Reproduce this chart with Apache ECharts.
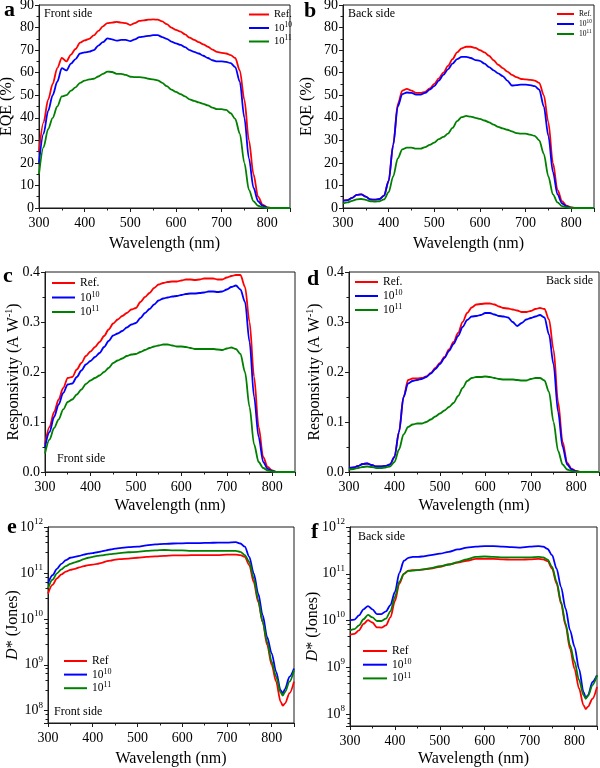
<!DOCTYPE html>
<html>
<head>
<meta charset="utf-8">
<script src="https://cdn.jsdelivr.net/npm/echarts@6/dist/echarts.min.js"></script>
<style>
html, body { margin: 0; padding: 0; background: #fff; }
#chart { width: 600px; height: 768px; }
</style>
</head>
<body>
<div id="chart"></div>
<script>
'use strict';
var myChart = echarts.init(document.getElementById('chart'));

// wavelength grid (nm) for EQE / responsivity panels
var wl = [300,310,320,330,340,350,360,370,380,390,400,410,420,430,440,450,460,470,480,490,
  500,510,520,530,540,550,560,570,580,590,600,610,620,630,640,650,660,670,680,690,
  700,710,720,730,740,750,760,770,780,790,800,810,820,830,840,850];

// a: EQE front side (%)
var eqeFrontRef = [25,38,48,55,62,66.5,65,68,70.5,73.3, 74.3,75,76.5,78.5,80.5,82,82.2,82.5,82.2,82,
  81.1,82,83,83.2,83.5,83.6,83.5,82.7,81.5,80, 79,78.2,77,75.5,74.5,73.5,72.5,71.5,70.2,69.2,
  68.8,68.5,67.8,66.5,61,48,30,15,5,1.5, 0.3,0,0,0,0,0];
var eqeFront1e10 = [20,33,43,50,56,62,61,64,66,68.5, 69,69.3,70,72,73.5,75.2,74.8,74.2,74.5,74.5,
  74,74.8,75.8,76,76.3,76.6,76.6,75.8,75,73.8, 73,72.3,71.3,70,69.2,68.5,67.5,66.5,65.5,65,
  65,64.8,64.2,62.5,56,40,22,9,3,1, 0.2,0,0,0,0,0];
var eqeFront1e11 = [15,27,35,40,45,49.5,50,52,53.5,55.5, 56.5,57,57.3,58.3,59.5,60.5,60.3,59.5,59.5,59,
  58.2,58,58,57.8,57.3,57,56.6,55.5,54,52.5, 51.5,50.5,49.5,48.2,47.5,46.8,46.2,45.5,44.5,43.8,
  43.8,43.5,42,39.5,33,20,8,3,1,0.3, 0,0,0,0,0,0];

// b: EQE back side (%)
var eqeBackRef = [3.3,3.5,4.5,5.8,6,5,3.8,3.7,4,5.5, 12,28,46,52,52.8,52,51,51,51.5,53,
  55,57.5,60,63,66,69,70.8,71.5,71.5,71, 70,69,67.5,65.5,63.5,62,60.5,59,58,57.2,
  57,56.8,56.5,55.5,50,38,20,8,3,1, 0.3,0,0,0,0,0];
var eqeBack1e10 = [3.3,3.5,4.5,5.8,6,5,3.8,3.7,4,5.5, 12,28,45,50.5,51.2,51,50.3,50.3,51,52.5,
  54,56.5,59,61.5,64,66,67,67,66.5,65.6, 65.2,64,62.5,61,59.7,58.5,56.5,54.3,54.5,54.7,
  54.7,54.5,54,52.5,45,32,16,6,2,0.7, 0.2,0,0,0,0,0];
var eqeBack1e11 = [2,2.5,3.2,3.8,4,3.6,3,2.8,3,3.8, 7,14,22,26,26.8,26.8,26.3,26.3,27,28,
  29,30.5,31.5,33,35.5,38.5,40.3,40.8,40.5,40, 39.5,38.8,38,37,36,35.3,34.7,34,33.2,33,
  33,32.5,32,30,24,14,6,2.5,0.8,0.3, 0,0,0,0,0,0];

// c: responsivity front side (A/W)
var respFrontRef = [0.055,0.09,0.12,0.145,0.168,0.188,0.19,0.205,0.218,0.232, 0.241,0.25,0.26,0.272,0.285,0.297,0.305,0.312,0.318,0.325,
  0.328,0.34,0.35,0.358,0.368,0.375,0.378,0.38,0.381,0.381, 0.383,0.385,0.385,0.384,0.385,0.387,0.387,0.387,0.385,0.385,
  0.389,0.392,0.394,0.394,0.37,0.3,0.19,0.09,0.03,0.01, 0.003,0,0,0,0,0];
var respFront1e10 = [0.05,0.08,0.11,0.135,0.158,0.175,0.177,0.19,0.203,0.215, 0.222,0.23,0.238,0.25,0.262,0.273,0.277,0.282,0.289,0.295,
  0.298,0.308,0.318,0.326,0.335,0.343,0.347,0.349,0.351,0.352, 0.354,0.356,0.357,0.357,0.358,0.359,0.361,0.361,0.36,0.361,
  0.365,0.37,0.373,0.365,0.34,0.26,0.15,0.07,0.02,0.006, 0.002,0,0,0,0,0];
var respFront1e11 = [0.037,0.065,0.088,0.105,0.125,0.14,0.145,0.155,0.165,0.176, 0.183,0.188,0.193,0.2,0.208,0.218,0.223,0.227,0.232,0.235,
  0.236,0.24,0.244,0.248,0.251,0.253,0.255,0.255,0.253,0.251, 0.251,0.25,0.248,0.246,0.246,0.246,0.246,0.246,0.245,0.244,
  0.247,0.249,0.246,0.236,0.2,0.13,0.055,0.02,0.008,0.003, 0.001,0,0,0,0,0];

// d: responsivity back side (A/W)
var respBackRef = [0.008,0.009,0.012,0.016,0.017,0.014,0.011,0.011,0.012,0.015, 0.03,0.08,0.15,0.184,0.187,0.187,0.188,0.191,0.198,0.208,
  0.218,0.23,0.245,0.26,0.278,0.3,0.318,0.329,0.335,0.336, 0.337,0.337,0.335,0.331,0.328,0.327,0.325,0.323,0.32,0.32,
  0.322,0.326,0.328,0.326,0.305,0.245,0.14,0.06,0.018,0.006, 0.002,0,0,0,0,0];
var respBack1e10 = [0.008,0.009,0.012,0.016,0.017,0.014,0.011,0.011,0.012,0.015, 0.03,0.08,0.15,0.177,0.182,0.184,0.186,0.19,0.197,0.206,
  0.216,0.228,0.242,0.256,0.272,0.29,0.304,0.311,0.312,0.314, 0.318,0.318,0.315,0.312,0.311,0.309,0.3,0.292,0.298,0.305,
  0.308,0.311,0.314,0.309,0.275,0.215,0.12,0.05,0.015,0.005, 0.001,0,0,0,0,0];
var respBack1e11 = [0.005,0.006,0.008,0.01,0.011,0.01,0.008,0.008,0.009,0.011, 0.02,0.045,0.075,0.09,0.095,0.097,0.097,0.1,0.105,0.111,
  0.117,0.123,0.13,0.138,0.152,0.168,0.182,0.188,0.19,0.19, 0.191,0.19,0.188,0.186,0.185,0.185,0.185,0.184,0.183,0.183,
  0.186,0.188,0.188,0.183,0.16,0.1,0.042,0.015,0.005,0.002, 0,0,0,0,0,0];

// wavelength grid (nm) for detectivity panels
var wlD = [300,310,320,330,340,350,360,370,380,390,400,410,420,430,440,450,460,
  480,500,520,540,560,580,600,620,640,660,680,700,720,
  730,740,750,760,770,780,790,800,810,820,825,830,840,850];

// e: D* front side (Jones)
var detFrontRef = [3.55e10,5.5e10,7.6e10,9.3e10,1.07e11,1.17e11,1.23e11,1.32e11,1.41e11,1.48e11,
  1.51e11,1.58e11,1.66e11,1.78e11,1.86e11,1.95e11,2.0e11,
  2.04e11,2.14e11,2.24e11,2.29e11,2.34e11,2.4e11,2.4e11,2.43e11,2.45e11,2.45e11,2.45e11,2.51e11,2.51e11,
  2.45e11,2.24e11,1.48e11,6.3e10,2.34e10,8.5e9,2.7e9,1.0e9,4.3e8,1.58e8,
  1.29e8,1.45e8,2.4e8,4.3e8];
var detFront1e10 = [5.9e10,8.9e10,1.23e11,1.58e11,1.9e11,2.14e11,2.24e11,2.34e11,2.51e11,2.63e11,
  2.69e11,2.82e11,2.95e11,3.09e11,3.24e11,3.39e11,3.47e11,
  3.63e11,3.72e11,3.98e11,4.17e11,4.27e11,4.37e11,4.42e11,4.47e11,4.47e11,4.52e11,4.57e11,4.57e11,4.68e11,
  4.37e11,3.72e11,2.24e11,9.8e10,3.55e10,1.2e10,4.0e9,1.78e9,7.1e8,2.8e8,
  2.4e8,3.0e8,5.5e8,8.3e8];
var detFront1e11 = [4.6e10,7.1e10,9.8e10,1.2e11,1.41e11,1.58e11,1.7e11,1.82e11,2.0e11,2.14e11,
  2.24e11,2.34e11,2.4e11,2.51e11,2.57e11,2.63e11,2.69e11,
  2.82e11,2.88e11,3.02e11,3.09e11,3.16e11,3.09e11,3.09e11,3.02e11,3.02e11,3.02e11,3.02e11,3.02e11,3.02e11,
  2.88e11,2.45e11,1.74e11,7.6e10,2.57e10,8.5e9,3.16e9,1.17e9,5.5e8,2.5e8,
  2.14e8,2.57e8,4.3e8,7.6e8];

// f: D* back side (Jones)
var detBackRef = [5.0e9,5.2e9,6.2e9,8.5e9,1.02e10,9.1e9,7.2e9,7.1e9,7.9e9,1.17e10,
  2.6e10,6.2e10,1.0e11,1.17e11,1.2e11,1.2e11,1.23e11,
  1.29e11,1.41e11,1.58e11,1.74e11,1.9e11,2.09e11,2.09e11,2.09e11,2.04e11,2.0e11,2.0e11,2.04e11,2.09e11,
  2.04e11,1.86e11,1.29e11,6.2e10,2.3e10,7.9e9,2.5e9,9.3e8,3.55e8,1.55e8,
  1.29e8,1.45e8,2.14e8,3.8e8];
var detBack1e10 = [1.02e10,1.05e10,1.29e10,1.74e10,2.04e10,1.74e10,1.38e10,1.38e10,1.58e10,2.14e10,
  4.1e10,1.05e11,1.9e11,2.19e11,2.29e11,2.29e11,2.34e11,
  2.51e11,2.69e11,2.95e11,3.31e11,3.63e11,3.8e11,3.89e11,3.89e11,3.8e11,3.72e11,3.63e11,3.8e11,3.89e11,
  3.8e11,3.39e11,2.51e11,1.29e11,5.2e10,1.82e10,6.2e9,2.75e9,9.3e8,3.0e8,
  2.24e8,2.57e8,4.9e8,6.8e8];
var detBack1e11 = [6.2e9,6.6e9,7.9e9,1.07e10,1.32e10,1.17e10,9.8e9,9.8e9,1.1e10,1.58e10,
  3.2e10,6.8e10,1.0e11,1.15e11,1.17e11,1.2e11,1.23e11,
  1.32e11,1.45e11,1.58e11,1.78e11,2.04e11,2.29e11,2.34e11,2.29e11,2.24e11,2.24e11,2.24e11,2.24e11,2.29e11,
  2.24e11,2.0e11,1.41e11,6.8e10,2.5e10,8.7e9,2.95e9,1.32e9,5.4e8,2.57e8,
  2.14e8,2.45e8,4.2e8,6.8e8];

var namesEQE = ['Ref.', '10^10', '10^11'];
var namesDet = ['Ref', '10^10', '10^11'];

var FONT = 'Liberation Serif';
var AXIS_COLOR = '#1a1a1a';
var COLORS = { 'Ref.': '#ff0000', 'Ref': '#ff0000', '10^10': '#0000ff', '10^11': '#008000' };

var option = {
    animation: false,
    backgroundColor: '#fff',
    textStyle: { fontFamily: FONT },
    grid: [], xAxis: [], yAxis: [], series: [], legend: [], graphic: []
};

//10^10 -> 10 with superscript
function supFmt(name) {
    var m = /^10\^(\d+)$/.exec(name);
    return m ? '10{sup|' + m[1] + '}' : name;
}

function yAxisFor(kind, k, p) {
    var base = {
        gridIndex: k,
        nameLocation: 'middle',
        nameGap: p.yGap,
        nameMoveOverlap: false,
        nameTextStyle: {
            fontFamily: FONT, fontSize: 16, lineHeight: 20, color: '#000',
            rich: {
                sup: { fontFamily: FONT, fontSize: 10, lineHeight: 10, verticalAlign: 'top', color: '#000' },
                it: { fontFamily: FONT, fontSize: 16, lineHeight: 20, fontStyle: 'italic', color: '#000' }
            }
        },
        axisLine: { show: true, onZero: false, lineStyle: { color: AXIS_COLOR, width: 1 } },
        axisTick: { show: true, length: 4, lineStyle: { color: AXIS_COLOR } },
        minorTick: { show: true, splitNumber: 2, length: 2.5, lineStyle: { color: AXIS_COLOR } },
        splitLine: { show: false },
        axisLabel: { fontFamily: FONT, fontSize: 14, color: '#000', margin: 5 }
    };
    if (kind === 'eqe') {
        base.type = 'value'; base.min = 0; base.max = 90; base.interval = 10;
        base.name = 'EQE (%)';
    } else if (kind === 'resp') {
        base.type = 'value'; base.min = 0; base.max = 0.4; base.interval = 0.1;
        base.name = 'Responsivity (A W{sup|-1})';
        base.axisLabel.formatter = function (v) { return v.toFixed(1); };
    } else {
        base.type = 'log'; base.logBase = 10; base.min = p.ymin; base.max = 1e12;
        base.name = '{it|D}* (Jones)';
        base.minorTick.splitNumber = 5;
        base.axisLabel.lineHeight = 20;
        base.axisLabel.rich = { sup: { fontFamily: FONT, fontSize: 9, lineHeight: 9, verticalAlign: 'top', color: '#000' } };
        base.axisLabel.formatter = function (v) {
            var e = Math.log10(v), r = Math.round(e);
            return Math.abs(e - r) < 1e-6 ? '10{sup|' + r + '}' : '';
        };
    }
    return base;
}

function addPanel(p) {
    var k = option.grid.length;
    option.grid.push({
        left: p.box[0], top: p.box[1], width: p.box[2], height: p.box[3],
        show: true, borderColor: AXIS_COLOR, borderWidth: 1, backgroundColor: 'transparent',
        outerBoundsMode: 'none'
    });
    option.xAxis.push({
        type: 'value', gridIndex: k, min: 300, max: 850, interval: 100,
        name: 'Wavelength (nm)', nameLocation: 'middle', nameGap: p.xGap, nameMoveOverlap: false,
        nameTextStyle: { fontFamily: FONT, fontSize: 16, color: '#000' },
        axisLine: { show: true, onZero: false, lineStyle: { color: AXIS_COLOR, width: 1 } },
        axisTick: { show: true, length: 4, lineStyle: { color: AXIS_COLOR } },
        minorTick: { show: true, splitNumber: 2, length: 2.5, lineStyle: { color: AXIS_COLOR } },
        splitLine: { show: false },
        axisLabel: {
            fontFamily: FONT, fontSize: 14, color: '#000', margin: 8,
            formatter: function (v) { return v % 100 === 0 ? String(v) : ''; }
        }
    });
    option.yAxis.push(yAxisFor(p.kind, k, p));

    p.names.forEach(function (n, i) {
        option.series.push({
            type: 'line', name: n, xAxisIndex: k, yAxisIndex: k,
            data: p.x.map(function (w, j) { return [w, p.data[i][j]]; }),
            symbol: 'none', smooth: 0.3, smoothMonotone: 'x',
            lineStyle: { width: 1.8, color: COLORS[n] },
            itemStyle: { color: COLORS[n] }
        });
    });

    var lg = p.legend;
    option.legend.push({
        data: p.names, orient: 'vertical', left: lg.left, top: lg.top,
        icon: 'rect', itemWidth: lg.w, itemHeight: 2, itemGap: lg.gap,
        selectedMode: false, padding: 0, formatter: supFmt,
        textStyle: {
            fontFamily: FONT, fontSize: lg.fs, lineHeight: lg.lh, color: '#000',
            rich: { sup: { fontFamily: FONT, fontSize: lg.fs * 0.7, lineHeight: lg.fs * 0.6, verticalAlign: 'top', color: '#000' } }
        }
    });

    option.graphic.push({
        type: 'text', left: p.letter[0], top: p.letter[1],
        style: { text: p.id, font: 'bold 22px "Liberation Serif"', fill: '#000' }
    });
    var nt = { type: 'text', top: p.note.top, style: { text: p.note.text, font: '12px "Liberation Serif"', fill: '#000' } };
    if (p.note.right != null) nt.right = p.note.right; else nt.left = p.note.left;
    option.graphic.push(nt);
}

addPanel({ id: 'a', kind: 'eqe', box: [39, 5, 251, 203], x: wl, names: namesEQE,
    data: [eqeFrontRef, eqeFront1e10, eqeFront1e11], xGap: 28, yGap: 22,
    legend: { left: 249, top: 8, w: 20, fs: 10.5, lh: 13, gap: 0.5 },
    letter: [4, -1], note: { text: 'Front side', left: 44, top: 8 } });
addPanel({ id: 'b', kind: 'eqe', box: [343, 5, 251, 203], x: wl, names: namesEQE,
    data: [eqeBackRef, eqeBack1e10, eqeBack1e11], xGap: 28, yGap: 26,
    legend: { left: 557, top: 9, w: 17, fs: 7.5, lh: 10, gap: 0 },
    letter: [304, 0], note: { text: 'Back side', left: 348, top: 8 } });
addPanel({ id: 'c', kind: 'resp', box: [45, 272, 250, 200], x: wl, names: namesEQE,
    data: [respFrontRef, respFront1e10, respFront1e11], xGap: 26, yGap: 21,
    legend: { left: 52, top: 276, w: 23, fs: 11.5, lh: 14, gap: 0.5 },
    letter: [3, 265], note: { text: 'Front side', left: 57, top: 453 } });
addPanel({ id: 'd', kind: 'resp', box: [349, 272, 250, 200], x: wl, names: namesEQE,
    data: [respBackRef, respBack1e10, respBack1e11], xGap: 26, yGap: 24,
    legend: { left: 355, top: 275, w: 23, fs: 11.5, lh: 14, gap: 0 },
    letter: [307, 268], note: { text: 'Back side', right: 7, top: 275 } });
addPanel({ id: 'e', kind: 'det', ymin: 5.4e7, box: [48, 527, 246, 196], x: wlD, names: namesDet,
    data: [detFrontRef, detFront1e10, detFront1e11], xGap: 28, yGap: 25,
    legend: { left: 64, top: 654, w: 23, fs: 11.5, lh: 14, gap: -0.4 },
    letter: [7, 516], note: { text: 'Front side', left: 54, top: 706 } });
addPanel({ id: 'f', kind: 'det', ymin: 5.6e7, box: [350, 527, 247, 199], x: wlD, names: namesDet,
    data: [detBackRef, detBack1e10, detBack1e11], xGap: 25, yGap: 27,
    legend: { left: 363, top: 644, w: 24, fs: 11.5, lh: 14, gap: -0.3 },
    letter: [311, 521], note: { text: 'Back side', left: 358, top: 531 } });

myChart.setOption(option);
</script>
</body>
</html>
